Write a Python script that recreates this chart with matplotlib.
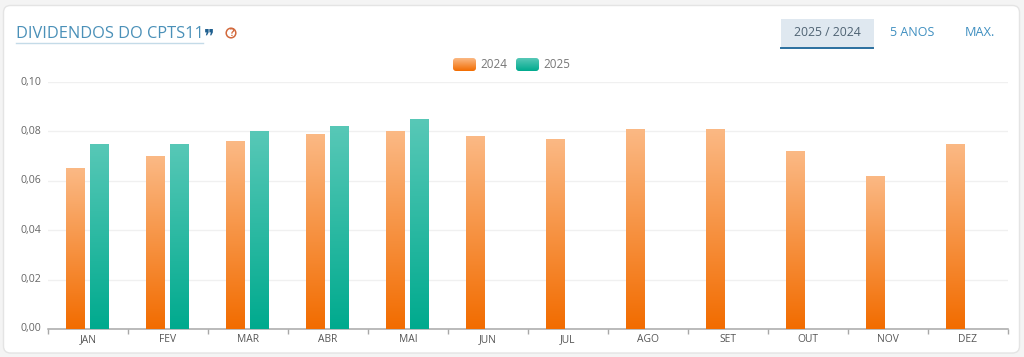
import numpy as np
import matplotlib
matplotlib.use("Agg")
import matplotlib.pyplot as plt
from matplotlib.patches import FancyBboxPatch, Rectangle, Circle
from matplotlib.colors import LinearSegmentedColormap
from matplotlib.transforms import ScaledTranslation

months = ["JAN", "FEV", "MAR", "ABR", "MAI", "JUN", "JUL", "AGO", "SET", "OUT", "NOV", "DEZ"]
values_2024 = [0.065, 0.070, 0.076, 0.079, 0.080, 0.078, 0.077, 0.081, 0.081, 0.072, 0.062, 0.075]
values_2025 = [0.075, 0.075, 0.080, 0.082, 0.085]
y_ticks = [0.00, 0.02, 0.04, 0.06, 0.08, 0.10]
y_labels = ["0,00", "0,02", "0,04", "0,06", "0,08", "0,10"]
series_names = ["2024", "2025"]
title_text = "DIVIDENDOS DO CPTS11"
tabs = ["2025 / 2024", "5 ANOS", "MAX."]

W, H = 1024, 357
plt.rcParams["font.family"] = ["Open Sans", "DejaVu Sans"]
fig = plt.figure(figsize=(W / 100, H / 100), dpi=100, facecolor="#f4f4f4")

bg = fig.add_axes([0, 0, 1, 1], zorder=0)
bg.set_xlim(0, W); bg.set_ylim(H, 0); bg.axis("off")
bg.add_patch(FancyBboxPatch((3.5, 5.5), 1016, 347.5, boxstyle="round,pad=0,rounding_size=7",
                            fc="#ffffff", ec="#e4e4e4", lw=1))

ax = fig.add_axes([48 / W, 1 - 329 / H, 959.5 / W, 247 / H], zorder=1)
ax.patch.set_alpha(0)

orange_cm = LinearSegmentedColormap.from_list("o", ["#fbb985", "#f26c00"])
teal_cm = LinearSegmentedColormap.from_list("t", ["#58c8b7", "#00aa8e"])
grad = np.linspace(0, 1, 256).reshape(-1, 1)
BW = 0.235
OFF = 0.148


def draw_bars(vals, offset, cmap):
    for i, v in enumerate(vals):
        bars = ax.bar(i + 0.5 + offset, v, BW, color="none", zorder=3)
        x0 = i + 0.5 + offset - BW / 2
        im = ax.imshow(grad, cmap=cmap, aspect="auto", extent=(x0, x0 + BW, 0, v),
                       zorder=3, interpolation="bilinear")
        im.set_clip_path(bars[0])


draw_bars(values_2024, -OFF - 0.005, orange_cm)
draw_bars(values_2025, OFF - 0.005, teal_cm)
ax.set_xlim(0, 12)
ax.set_ylim(0, 0.10)

for s in ["top", "right", "left"]:
    ax.spines[s].set_visible(False)
ax.spines["bottom"].set_color("#a8a8a8")
ax.spines["bottom"].set_linewidth(1.1)
ax.set_yticks(y_ticks, y_labels)
ax.set_xticks(range(13), [""] * 13)
ax.set_xticks(np.arange(12) + 0.5, months, minor=True)
ax.tick_params(axis="y", length=0, labelsize=7.6, labelcolor="#666666", pad=5)
ax.tick_params(axis="x", which="major", length=3.5, color="#a8a8a8", width=1)
ax.tick_params(axis="x", which="minor", length=0, labelsize=7.4, labelcolor="#555555", pad=3.5)
ax.grid(axis="y", color="#f0f0f0", lw=1)
ax.set_axisbelow(True)
shift = ScaledTranslation(0, 1.5 / 100, fig.dpi_scale_trans)
for lab in ax.get_yticklabels():
    lab.set_transform(lab.get_transform() + shift)

top = fig.add_axes([0, 0, 1, 1], zorder=2)
top.set_xlim(0, W); top.set_ylim(H, 0); top.axis("off")
top.text(16, 33.5, title_text, fontsize=11.8, color="#4a90b8", va="center", ha="left")
top.plot([16, 203], [43, 43], color="#c4dbe8", lw=1)
top.text(204, 37, "\u275e", fontsize=14, color="#1f5f8f", va="center", ha="left",
         family=["DejaVu Sans"])
top.add_patch(Circle((231, 33), 4.8, fc="none", ec="#d2693c", lw=1.1))
top.text(231, 33.2, "?", fontsize=7, color="#d2693c", ha="center", va="center", fontweight="bold")

top.add_patch(Rectangle((781, 19), 92.5, 28, fc="#dfe8f0", ec="none"))
top.plot([781, 873], [47.5, 47.5], color="#2a6f9f", lw=1.4)
tab_x = [827, 912.5, 979.5]
tab_c = ["#4f6373", "#3f8fc0", "#3f8fc0"]
tab_s = [8.8, 9, 9.2]
for tx, name, col, fs in zip(tab_x, tabs, tab_c, tab_s):
    top.text(tx, 32.5, name, fontsize=fs, color=col, ha="center", va="center")

for x0, name, cm in zip([453, 516], series_names, [orange_cm, teal_cm]):
    patch = FancyBboxPatch((x0, 58), 23, 13, boxstyle="round,pad=0,rounding_size=3",
                           fc="none", ec="none")
    top.add_patch(patch)
    im = top.imshow(grad, cmap=cm, aspect="auto", extent=(x0, x0 + 23, 71, 58), origin="upper",
                    interpolation="bilinear")
    im.set_clip_path(patch)
    top.text(x0 + 27.5, 64.5, name, fontsize=8.4, color="#777777", ha="left", va="center")
top.set_xlim(0, W); top.set_ylim(H, 0)

fig.savefig("out.png", dpi=100, facecolor=fig.get_facecolor())
